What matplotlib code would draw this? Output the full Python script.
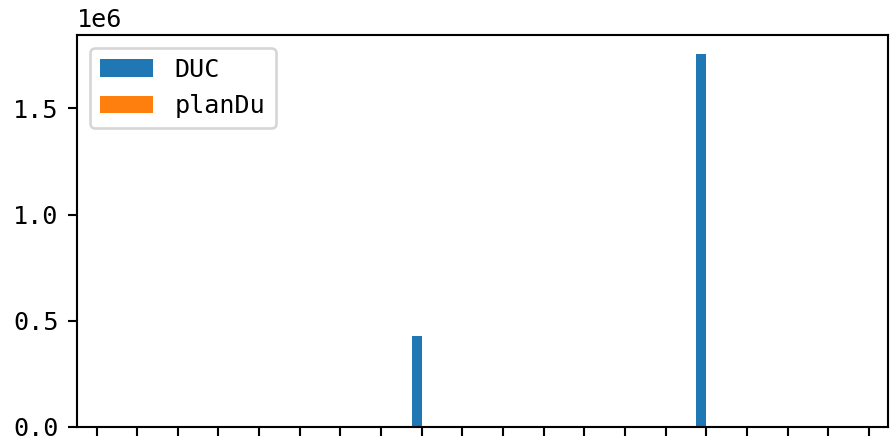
import numpy as np
import matplotlib
matplotlib.use("Agg")
import matplotlib.pyplot as plt

# datos
categories = [str(i) for i in range(20)]
duc = [0, 0, 0, 0, 0, 0, 0, 0, 429000, 0, 0, 0, 0, 0, 0, 1757000, 0, 0, 0, 0]
plan_du = [4500, 4500, 4500, 4500, 4500, 4500, 4500, 4500, 0, 4500,
           4500, 4500, 4500, 0, 0, 0, 4500, 4500, 4500, 0]

plt.rcParams["font.family"] = ["DejaVu Sans Mono"]
plt.rcParams["font.size"] = 9.5

DPI = 190
fig = plt.figure(figsize=(890 / DPI, 442 / DPI), dpi=DPI)
ax = fig.add_axes([77 / 890, 15 / 442, 811 / 890, 392 / 442])

x = np.arange(len(categories))
w = 0.25
ax.bar(x - w / 2, duc, w, color="#1f77b4", label="DUC")  # barras DUC
ax.bar(x + w / 2, plan_du, w, color="#ff7f0e", label="planDu")  # barras planDu

ax.set_xticks(x)
ax.set_xticklabels(categories)
ax.tick_params(axis="x", labelbottom=False)
ax.set_xlim(-0.48, len(categories) - 0.53)
ax.set_yticks([0, 0.5e6, 1.0e6, 1.5e6])
ax.legend(loc="upper left", handlelength=2.15, handletextpad=0.85)

fig.savefig("out.png", dpi=DPI)
